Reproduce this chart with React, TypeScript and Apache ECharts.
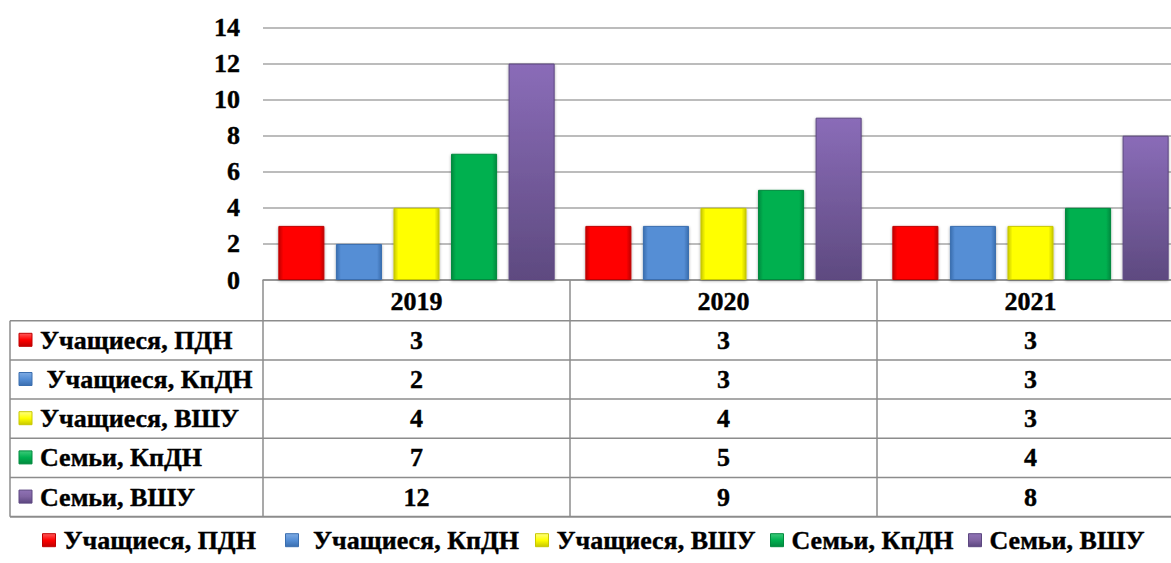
import React, { useEffect, useRef } from "react";
import * as echarts from "echarts";

const categories = ["2019", "2020", "2021"];
const seriesNames = ["Учащиеся, ПДН", " Учащиеся, КпДН", "Учащиеся, ВШУ", "Семьи, КпДН", "Семьи, ВШУ"];
const pupilsPDN = [3, 3, 3];
const pupilsKpDN = [2, 3, 3];
const pupilsVSHU = [4, 4, 3];
const familiesKpDN = [7, 5, 4];
const familiesVSHU = [12, 9, 8];
const yTicks = [0, 2, 4, 6, 8, 10, 12, 14];

const seriesValues = [pupilsPDN, pupilsKpDN, pupilsVSHU, familiesKpDN, familiesVSHU];
const baseColors = ["#FF0000", "#558ED5", "#FFFF00", "#00B050", "#8064A2"];
const darkColors = ["#C00000", "#3A6EAF", "#C8C800", "#008A3E", "#5C4780"];
const lightColors = ["#FF5A5A", "#7FABE3", "#FFFF80", "#3CCB7A", "#8F72B5"];

const FONT = "Liberation Serif";
const FS = 26;
const TB = 0.4;
const CHART_W = 1190;
const CHART_H = 563;
const GRID_LEFT = 263;
const CAT_W = 307;
const GRID_TOP = 27.5;
const AXIS_Y = 280;
const ROW_TOP = 281.5;
const ROW_H = 39.2;
const TABLE_LEFT = 10;
const GRID_COLOR = "#A6A6A6";
const TABLE_COLOR = "#8C8C8C";
const legendLefts = [42, 285, 535, 770, 968];

export default function App() {
  const ref = useRef<HTMLDivElement>(null);

  useEffect(() => {
    if (!ref.current) return;
    const chart = echarts.init(ref.current, undefined, { renderer: "svg" });

    const gridRight = CHART_W - (GRID_LEFT + CAT_W * categories.length);

    const markerFill = (i: number) =>
      new echarts.graphic.LinearGradient(0, 0, 0, 1, [
        { offset: 0, color: lightColors[i] },
        { offset: 0.5, color: baseColors[i] },
        { offset: 1, color: darkColors[i] },
      ]);

    const graphics: any[] = [];
    graphics.push({
      type: "line",
      shape: { x1: TABLE_LEFT, y1: ROW_TOP + ROW_H, x2: TABLE_LEFT, y2: ROW_TOP + ROW_H * 6 },
      style: { stroke: TABLE_COLOR, lineWidth: 1.5 },
      silent: true,
    });
    for (let r = 1; r <= 6; r++) {
      const y = ROW_TOP + ROW_H * r;
      graphics.push({
        type: "line",
        shape: { x1: TABLE_LEFT, y1: y, x2: CHART_W, y2: y },
        style: { stroke: TABLE_COLOR, lineWidth: r === 6 ? 2 : 1.5 },
        silent: true,
      });
    }
    seriesNames.forEach((name, i) => {
      const cy = ROW_TOP + ROW_H * (i + 1) + ROW_H / 2;
      graphics.push({
        type: "rect",
        shape: { x: 19, y: cy - 7, width: 13, height: 13 },
        style: { fill: markerFill(i), stroke: darkColors[i], lineWidth: 1 },
        silent: true,
      });
      graphics.push({
        type: "text",
        x: 40,
        y: cy,
        style: {
          text: name,
          fontFamily: FONT,
          fontWeight: "bold",
          fontSize: FS,
          fill: "#000",
          stroke: "#000",
          lineWidth: TB,
          verticalAlign: "middle",
          align: "left",
        },
        silent: true,
      });
      seriesValues[i].forEach((v, c) => {
        graphics.push({
          type: "text",
          x: GRID_LEFT + CAT_W * (c + 0.5),
          y: cy,
          style: {
            text: String(v),
            fontFamily: FONT,
            fontWeight: "bold",
            fontSize: FS,
            fill: "#000",
            stroke: "#000",
            lineWidth: TB,
            align: "center",
            verticalAlign: "middle",
          },
          silent: true,
        });
      });
    });

    const barColor = (i: number) =>
      new echarts.graphic.LinearGradient(0, 0, 1, 0, [
        { offset: 0, color: darkColors[i] },
        { offset: 0.1, color: baseColors[i] },
        { offset: 0.9, color: baseColors[i] },
        { offset: 1, color: darkColors[i] },
      ]);

    const purpleColor = new echarts.graphic.LinearGradient(0, 0, 0, 1, [
      { offset: 0, color: "#8A6CB8" },
      { offset: 1, color: "#5E4A80" },
    ]);

    chart.setOption({
      animation: false,
      textStyle: { fontFamily: FONT },
      grid: {
        left: GRID_LEFT,
        right: gridRight,
        top: GRID_TOP,
        bottom: CHART_H - AXIS_Y,
        containLabel: false,
      },
      legend: seriesNames.map((name, i) => ({
        data: [{ name, itemStyle: { color: markerFill(i), borderColor: darkColors[i], borderWidth: 1 } }],
        left: legendLefts[i],
        top: 527,
        orient: "horizontal",
        icon: "rect",
        itemWidth: 13,
        itemHeight: 13,
        padding: 0,
        textStyle: {
          fontFamily: FONT,
          fontWeight: "bold",
          fontSize: FS,
          color: "#000",
          textBorderColor: "#000",
          textBorderWidth: TB,
          padding: [0, 0, 0, 3],
        },
        selectedMode: false,
      })),
      xAxis: {
        type: "category",
        data: categories,
        axisLine: { show: true, lineStyle: { color: TABLE_COLOR, width: 1.5 } },
        axisTick: {
          show: true,
          inside: false,
          length: ROW_TOP + ROW_H * 6 - AXIS_Y,
          lineStyle: { color: TABLE_COLOR, width: 1.5 },
        },
        axisLabel: {
          margin: 8,
          fontFamily: FONT,
          fontWeight: "bold",
          fontSize: FS,
          color: "#000",
          textBorderColor: "#000",
          textBorderWidth: TB,
        },
        splitLine: { show: false },
      },
      yAxis: {
        type: "value",
        min: yTicks[0],
        max: yTicks[yTicks.length - 1],
        interval: 2,
        axisLine: { show: false },
        axisTick: { show: false },
        axisLabel: {
          margin: 23,
          fontFamily: FONT,
          fontWeight: "bold",
          fontSize: FS,
          color: "#000",
          textBorderColor: "#000",
          textBorderWidth: TB,
        },
        splitLine: { show: true, lineStyle: { color: GRID_COLOR, width: 1.5 } },
      },
      series: seriesNames.map((name, i) => ({
        name,
        type: "bar",
        data: seriesValues[i],
        barGap: "25%",
        barCategoryGap: "10%",
        itemStyle: {
          color: i === 4 ? purpleColor : barColor(i),
          borderColor: darkColors[i],
          borderWidth: 1,
          shadowColor: "rgba(0,0,0,0.35)",
          shadowBlur: 3,
          shadowOffsetY: 1,
        },
      })),
      color: baseColors,
      graphic: graphics,
    });

    return () => chart.dispose();
  }, []);

  return (
    <div
      style={{
        position: "fixed",
        left: 0,
        top: 0,
        width: 1171,
        height: 563,
        overflow: "hidden",
        background: "#fff",
      }}
    >
      <div ref={ref} style={{ width: CHART_W, height: CHART_H }} />
    </div>
  );
}
